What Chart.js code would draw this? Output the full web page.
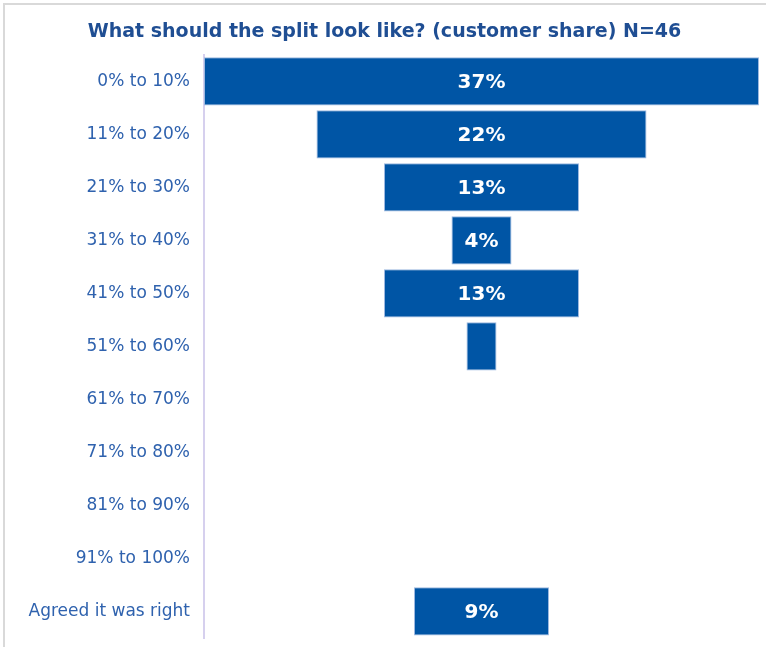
<!DOCTYPE html>
<html>
<head>
<meta charset="utf-8">
<script src="https://cdn.jsdelivr.net/npm/chart.js@4.4.1/dist/chart.umd.min.js"></script>
<style>
  html, body { margin: 0; padding: 0; background: #fff; overflow: hidden; }
  #wrap { position: absolute; left: 0; top: 0; width: 766px; height: 647px; }
</style>
</head>
<body>
<div id="wrap"><canvas id="chart"></canvas></div>
<script>
// Survey answer bands and their share of customers (%)
const categories = [
  '0% to 10%', '11% to 20%', '21% to 30%', '31% to 40%', '41% to 50%',
  '51% to 60%', '61% to 70%', '71% to 80%', '81% to 90%', '91% to 100%',
  'Agreed it was right'
];
const shares = [37, 22, 13, 4, 13, 2, 0, 0, 0, 0, 9];
const titleText = 'What should the split look like? (customer share) N=46';

const BLUE = '#0055A5';
const LABEL_BLUE = '#2F62AE';
const TITLE_BLUE = '#1F4E93';
const FONT = '"DejaVu Sans", "Lato", sans-serif';

// Funnel: each bar is centred on zero and spans half its value either side
const funnelData = shares.map(v => [-v / 2, v / 2]);
const half = Math.max(...shares) / 2;

// Light grey frame along the top and left edges of the canvas
const frameLines = {
  id: 'frameLines',
  beforeDraw(chart) {
    const { ctx } = chart;
    ctx.save();
    ctx.strokeStyle = '#d9d9d9';
    ctx.lineWidth = 2;
    ctx.beginPath();
    ctx.moveTo(4, chart.height);
    ctx.lineTo(4, 4);
    ctx.lineTo(chart.width, 4);
    ctx.stroke();
    ctx.restore();
  }
};

// White value labels inside bars that are wide enough to hold them
const valueLabels = {
  id: 'valueLabels',
  afterDatasetsDraw(chart) {
    const { ctx } = chart;
    const meta = chart.getDatasetMeta(0);
    ctx.save();
    ctx.font = 'bold 20px ' + FONT;
    ctx.fillStyle = '#ffffff';
    ctx.textAlign = 'center';
    ctx.textBaseline = 'middle';
    meta.data.forEach((bar, i) => {
      const v = shares[i];
      if (!v) return;
      const txt = v + '%';
      const w = Math.abs(bar.x - bar.base);
      if (ctx.measureText(txt).width + 8 > w) return;
      ctx.fillText(txt, (bar.x + bar.base) / 2, bar.y + 1);
    });
    ctx.restore();
  }
};

new Chart(document.getElementById('chart'), {
  type: 'bar',
  data: {
    labels: categories,
    datasets: [{
      data: funnelData,
      backgroundColor: BLUE,
      borderColor: '#9DB8E0',
      borderWidth: 1,
      borderSkipped: false,
      categoryPercentage: 0.91,
      barPercentage: 1.0
    }]
  },
  options: {
    indexAxis: 'y',
    responsive: true,
    maintainAspectRatio: false,
    animation: false,
    layout: { padding: { left: 10, right: 7, top: 6, bottom: 9 } },
    plugins: {
      legend: { display: false },
      tooltip: { enabled: false },
      title: {
        display: true,
        text: titleText,
        color: TITLE_BLUE,
        font: { family: FONT, size: 19, weight: 'bold' },
        padding: { top: 15, bottom: 11 }
      }
    },
    scales: {
      x: {
        display: false,
        min: -half,
        max: half
      },
      y: {
        afterFit(scale) {
          scale.width = 194;
          scale.paddingTop = 0;
          scale.paddingBottom = 0;
        },
        grid: { display: false, drawTicks: false },
        border: { display: true, color: '#D6D0EE', width: 2 },
        ticks: {
          color: LABEL_BLUE,
          padding: 14,
          font: { family: FONT, size: 17 }
        }
      }
    }
  },
  plugins: [frameLines, valueLabels]
});
</script>
</body>
</html>
